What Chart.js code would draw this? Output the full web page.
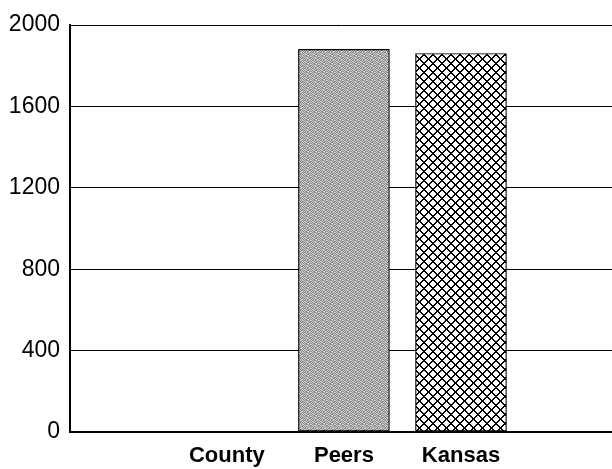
<!DOCTYPE html>
<html>
<head>
<meta charset="utf-8">
<script src="https://cdn.jsdelivr.net/npm/chart.js@4.4.1/dist/chart.umd.min.js"></script>
<style>
    html, body { margin: 0; padding: 0; background: #fff; }
    #wrap { width: 612px; height: 469px; position: relative; }
</style>
</head>
<body>
<div id="wrap"><canvas id="costChart"></canvas></div>
<script>
const categories = ['County', 'Peers', 'Kansas'];
const values = [0, 1880, 1860];
const yTicks = [0, 400, 800, 1200, 1600, 2000];

// grey dithered fill (Peers) - fixed 8x8 dither tile, dark/light pixels
function makeStipple() {
    const tile = [
        '10110100',
        '01001011',
        '10100110',
        '01011001',
        '11010010',
        '00101101',
        '10011010',
        '01100101'
    ];
    const c = document.createElement('canvas');
    c.width = 8; c.height = 8;
    const g = c.getContext('2d');
    for (let y = 0; y < 8; y++) {
        for (let x = 0; x < 8; x++) {
            g.fillStyle = tile[y][x] === '1' ? '#858585' : '#d2d2d2';
            g.fillRect(x, y, 1, 1);
        }
    }
    return g.createPattern(c, 'repeat');
}

// black crosshatch (Kansas)
function makeHatch() {
    const p = 9;
    const c = document.createElement('canvas');
    c.width = p; c.height = p;
    const g = c.getContext('2d');
    g.fillStyle = '#fff';
    g.fillRect(0, 0, p, p);
    g.fillStyle = '#000';
    for (let y = 0; y < p; y++) {
        for (let x = 0; x < p; x++) {
            if ((x + y) % p < 2 || (x - y + p) % p < 2) g.fillRect(x, y, 1, 1);
        }
    }
    return g.createPattern(c, 'repeat');
}

const stipple = makeStipple();
const hatch = makeHatch();

const ctx = document.getElementById('costChart').getContext('2d');
new Chart(ctx, {
    type: 'bar',
    data: {
        datasets: [{
            data: categories.map((c, i) => ({ x: i, y: values[i] })),
            backgroundColor: [stipple, stipple, hatch],
            borderColor: '#000',
            borderWidth: 1.2,
            borderSkipped: false,
            barThickness: 91
        }]
    },
    options: {
        responsive: true,
        maintainAspectRatio: false,
        animation: false,
        devicePixelRatio: 1,
        layout: { padding: { top: 25, right: 0, left: 0, bottom: 0 } },
        scales: {
            x: {
                type: 'linear',
                offset: false,
                min: -1.34,
                max: 3.29,
                afterBuildTicks: axis => {
                    axis.ticks = categories.map((c, i) => ({ value: i }));
                },
                afterFit: axis => { axis.height = 37; },
                ticks: {
                    callback: v => categories[v] ?? '',
                    autoSkip: false,
                    maxRotation: 0,
                    padding: 11,
                    color: '#000',
                    font: { family: "'Liberation Sans', Arial", weight: 'bold', size: 22 }
                },
                grid: { display: false, drawTicks: false },
                border: { display: false }
            },
            y: {
                min: 0,
                max: 2000,
                afterBuildTicks: axis => {
                    axis.ticks = yTicks.map(v => ({ value: v }));
                },
                afterFit: axis => { axis.width = 70; },
                ticks: {
                    callback: v => String(v),
                    padding: 10,
                    color: '#000',
                    font: { family: "'Liberation Sans', Arial", size: 23 }
                },
                grid: {
                    color: '#000',
                    lineWidth: c => c.tick && c.tick.value === 0 ? 2 : 1,
                    drawTicks: false
                },
                border: { color: '#000', width: 2 }
            }
        },
        plugins: {
            legend: { display: false },
            tooltip: { enabled: false }
        }
    }
});
</script>
</body>
</html>
